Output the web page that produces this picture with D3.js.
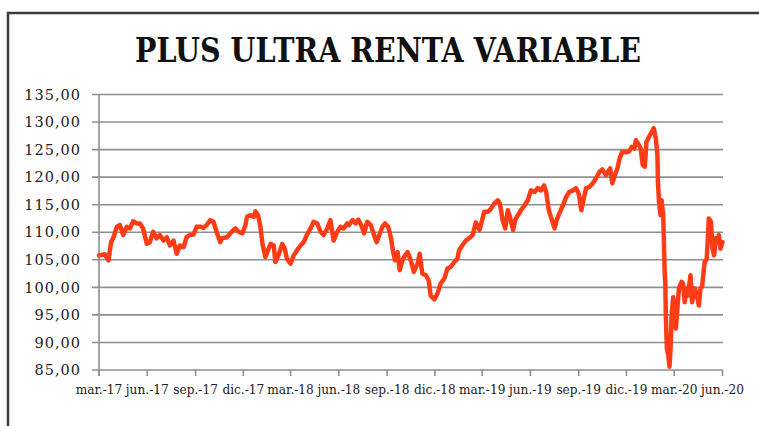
<!DOCTYPE html>
<html>
<head>
<meta charset="utf-8">
<script src="https://cdn.jsdelivr.net/npm/d3@7"></script>
<style>
  html, body { margin: 0; padding: 0; background: #fff; }
  svg { display: block; }
</style>
</head>
<body>
<svg id="chart" width="759" height="426"></svg>
<script>
const title = "PLUS ULTRA RENTA VARIABLE";

const dates = [
"2017-03-01","2017-03-12","2017-03-19","2017-03-24","2017-03-28","2017-04-04","2017-04-10","2017-04-16","2017-04-23","2017-04-29",
"2017-05-05","2017-05-12","2017-05-18","2017-05-24","2017-05-31","2017-06-06","2017-06-12","2017-06-19","2017-06-25","2017-07-02",
"2017-07-08","2017-07-14","2017-07-21","2017-07-27","2017-08-02","2017-08-09","2017-08-15","2017-08-21","2017-08-28","2017-09-03",
"2017-09-10","2017-09-16","2017-09-22","2017-09-29","2017-10-05","2017-10-11","2017-10-18","2017-10-21","2017-10-31","2017-11-09",
"2017-11-16","2017-11-22","2017-11-29","2017-12-05","2017-12-08","2017-12-14","2017-12-21","2017-12-24","2017-12-29","2018-01-02",
"2018-01-07","2018-01-12","2018-01-18","2018-01-22","2018-01-28","2018-01-31","2018-02-07","2018-02-13","2018-02-18","2018-02-22",
"2018-03-01","2018-03-07","2018-03-13","2018-03-20","2018-03-26","2018-04-01","2018-04-08","2018-04-14","2018-04-21","2018-04-27",
"2018-05-03","2018-05-10","2018-05-16","2018-05-22","2018-05-29","2018-06-04","2018-06-10","2018-06-17","2018-06-20","2018-06-27",
"2018-07-03","2018-07-08","2018-07-15","2018-07-19","2018-07-25","2018-08-01","2018-08-07","2018-08-12","2018-08-17","2018-08-23",
"2018-08-28","2018-09-03","2018-09-08","2018-09-12","2018-09-16","2018-09-21","2018-09-25","2018-09-30","2018-10-05","2018-10-10",
"2018-10-16","2018-10-22","2018-10-29","2018-11-02","2018-11-07","2018-11-14","2018-11-19","2018-11-23","2018-11-30","2018-12-06",
"2018-12-12","2018-12-19","2018-12-25","2018-12-31","2019-01-07","2019-01-13","2019-01-16","2019-01-22","2019-01-29","2019-02-04",
"2019-02-11","2019-02-17","2019-02-24","2019-03-01","2019-03-05","2019-03-12","2019-03-18","2019-03-24","2019-03-31","2019-04-04",
"2019-04-09","2019-04-14","2019-04-19","2019-04-23","2019-04-29","2019-05-03","2019-05-08","2019-05-14","2019-05-21","2019-05-27",
"2019-06-02","2019-06-09","2019-06-15","2019-06-21","2019-06-27","2019-07-01","2019-07-06","2019-07-12","2019-07-17","2019-07-21",
"2019-07-26","2019-08-02","2019-08-08","2019-08-14","2019-08-21","2019-08-27","2019-09-01","2019-09-06","2019-09-10","2019-09-15",
"2019-09-21","2019-09-28","2019-10-04","2019-10-11","2019-10-16","2019-10-23","2019-10-29","2019-10-31","2019-11-04","2019-11-09",
"2019-11-13","2019-11-18","2019-11-23","2019-11-30","2019-12-06","2019-12-11","2019-12-16","2019-12-19","2019-12-23","2019-12-28",
"2020-01-01","2020-01-05","2020-01-08","2020-01-13","2020-01-18","2020-01-22","2020-01-26","2020-01-29","2020-01-30","2020-02-01",
"2020-02-04","2020-02-06","2020-02-09","2020-02-10","2020-02-12","2020-02-13","2020-02-14","2020-02-16","2020-02-19","2020-02-21",
"2020-02-23","2020-02-25","2020-02-28","2020-03-02","2020-03-04","2020-03-07","2020-03-10","2020-03-15","2020-03-18","2020-03-21",
"2020-03-24","2020-03-27","2020-04-01","2020-04-04","2020-04-09","2020-04-13","2020-04-17","2020-04-20","2020-04-23","2020-04-28",
"2020-05-02","2020-05-06","2020-05-10","2020-05-13","2020-05-16","2020-05-19","2020-05-22","2020-05-25","2020-05-28","2020-06-01"
];

const values = [
105.8,106.0,104.9,108.2,108.9,111.0,111.3,109.5,111.0,110.7,
112.0,111.6,111.6,110.7,107.9,108.2,110.1,108.9,109.5,108.5,
109.1,107.6,108.5,106.1,107.6,107.3,109.1,109.5,109.6,111.0,
111.0,110.8,111.3,112.2,111.9,110.1,108.2,108.9,109.1,110.1,
110.7,110.1,109.8,111.3,112.8,113.1,112.8,113.8,113.1,111.3,
107.6,105.5,107.0,107.9,107.6,104.6,106.1,107.9,107.0,105.2,
104.3,105.8,106.7,107.6,108.2,109.5,110.7,111.9,111.6,110.1,
109.5,110.7,112.2,108.5,110.1,111.0,110.7,111.6,111.3,112.2,
111.6,112.3,111.0,109.8,111.9,111.3,109.5,108.2,109.5,111.0,
111.6,111.0,109.1,106.7,104.9,106.4,103.1,104.9,105.8,106.4,
104.9,102.8,104.3,106.1,102.5,102.2,101.3,98.5,97.8,98.9,
100.7,101.6,103.4,103.7,104.6,105.2,106.7,107.6,108.5,108.9,
109.5,111.8,110.4,112.2,113.7,113.7,114.3,115.2,115.8,115.2,
112.2,110.7,114.0,112.8,110.4,112.2,113.1,114.0,114.9,115.8,
117.6,117.3,118.0,117.6,118.5,117.3,114.0,112.2,110.7,112.2,
113.4,114.9,116.4,117.3,117.6,118.0,117.0,114.0,115.8,118.0,
118.2,118.9,119.8,121.0,121.4,120.4,121.3,121.6,118.9,120.4,
121.3,123.4,124.6,124.5,124.7,125.5,125.2,126.7,126.1,125.2,
122.2,121.9,126.4,127.3,128.2,128.9,127.0,124.0,119.1,115.5,
113.1,115.8,113.1,109.5,102.2,101.0,94.9,88.9,87.6,85.6,
88.9,94.9,98.2,94.9,92.5,96.1,99.8,101.0,100.7,97.3,
99.8,98.5,102.2,97.3,99.8,98.5,96.7,99.8,100.1,104.6,
105.2,112.5,111.9,107.0,105.8,108.9,108.2,109.5,107.0,108.2
];

const xTickDates = ["2017-03-01","2017-06-01","2017-09-01","2017-12-01","2018-03-01","2018-06-01","2018-09-01",
                    "2018-12-01","2019-03-01","2019-06-01","2019-09-01","2019-12-01","2020-03-01","2020-06-01"];
const xTickLabels = ["mar.-17","jun.-17","sep.-17","dic.-17","mar.-18","jun.-18","sep.-18",
                     "dic.-18","mar.-19","jun.-19","sep.-19","dic.-19","mar.-20","jun.-20"];
const yTicks = [85, 90, 95, 100, 105, 110, 115, 120, 125, 130, 135];

const parse = d3.utcParse("%Y-%m-%d");
const data = dates.map((d, i) => ({ date: parse(d), value: values[i] }));

const svg = d3.select("#chart");
const plotL = 99, plotR = 722.5, plotT = 94.5, plotB = 370;

const x = d3.scaleUtc()
  .domain([parse(xTickDates[0]), parse(xTickDates[xTickDates.length - 1])])
  .range([plotL, plotR]);
const y = d3.scaleLinear().domain([85, 135]).range([plotB, plotT]);

const locale = d3.formatLocale({ decimal: ",", thousands: ".", grouping: [3], currency: ["", "€"] });
const fmt = locale.format(".2f");

// frame
svg.append("path")
  .attr("d", "M8,430 L8,13 L762,13")
  .attr("fill", "none")
  .attr("stroke", "#3a3a3a")
  .attr("stroke-width", 2.5);

// title
svg.append("text")
  .attr("x", 388).attr("y", 62)
  .attr("text-anchor", "middle")
  .attr("font-family", "DejaVu Serif")
  .attr("font-weight", "bold")
  .attr("font-size", 34)
  .attr("textLength", 506)
  .attr("lengthAdjust", "spacingAndGlyphs")
  .attr("fill", "#111")
  .text(title);

const gridColor = "#8f8f8f";

// horizontal gridlines + y ticks
svg.append("g").selectAll("line").data(yTicks).join("line")
  .attr("x1", plotL - 7).attr("x2", plotR + 0.5)
  .attr("y1", d => y(d)).attr("y2", d => y(d))
  .attr("stroke", gridColor).attr("stroke-width", 1.6);

// y axis line
svg.append("line")
  .attr("x1", plotL).attr("x2", plotL)
  .attr("y1", plotT).attr("y2", plotB + 6)
  .attr("stroke", gridColor).attr("stroke-width", 1.6);

// x ticks
svg.append("g").selectAll("line").data(xTickDates).join("line")
  .attr("x1", d => x(parse(d))).attr("x2", d => x(parse(d)))
  .attr("y1", plotB).attr("y2", plotB + 6)
  .attr("stroke", gridColor).attr("stroke-width", 1.6);

// y labels
svg.append("g").selectAll("text").data(yTicks).join("text")
  .attr("x", 81).attr("y", d => y(d))
  .attr("dy", "0.36em")
  .attr("text-anchor", "end")
  .attr("font-family", "DejaVu Serif")
  .attr("font-size", 14.5)
  .attr("letter-spacing", 1)
  .attr("fill", "#222")
  .text(d => fmt(d));

// x labels
svg.append("g").selectAll("text").data(xTickDates).join("text")
  .attr("x", d => x(parse(d)))
  .attr("y", 394)
  .attr("text-anchor", "middle")
  .attr("font-family", "'DejaVu Serif Condensed', 'DejaVu Serif'")
  .attr("font-stretch", "condensed")
  .attr("font-size", 13.5)
  .attr("fill", "#222")
  .text((d, i) => xTickLabels[i]);

// series line
const line = d3.line().x(d => x(d.date)).y(d => y(d.value));
svg.append("path")
  .datum(data)
  .attr("d", line)
  .attr("fill", "none")
  .attr("stroke", "#ff3c16")
  .attr("stroke-width", 4.5)
  .attr("stroke-linejoin", "round")
  .attr("stroke-linecap", "round");
</script>
</body>
</html>
